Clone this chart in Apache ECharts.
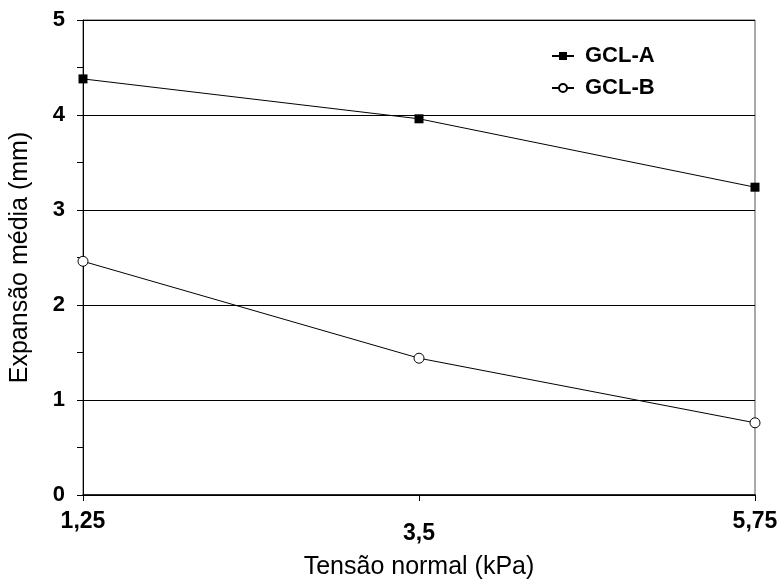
<!DOCTYPE html>
<html><head><meta charset="utf-8">
<script src="https://cdn.jsdelivr.net/npm/echarts@6/dist/echarts.min.js"></script>
<style>html,body{margin:0;padding:0;background:#fff}#c{width:781px;height:585px}</style>
</head><body><div id="c"></div>
<script>
var categories = ['1,25', '3,5', '5,75'];
var gclA = [4.38, 3.96, 3.24];
var gclB = [2.46, 1.44, 0.76];
var yTicks = [0, 1, 2, 3, 4, 5];

var chart = echarts.init(document.getElementById('c'), null, {renderer: 'canvas'});
var F = '"Liberation Sans", Arial, sans-serif';
chart.setOption({
  animation: false,
  backgroundColor: '#fff',
  grid: {left: 81, right: 26, top: 20, bottom: 89, show: true, borderColor: '#555', borderWidth: 1},
  legend: {
    orient: 'vertical', left: 546, top: 40, itemGap: 10, itemWidth: 22, itemHeight: 10,
    textStyle: {fontFamily: F, fontSize: 22, lineHeight: 22, fontWeight: 'bold', color: '#000', padding: [0, 0, 0, 6]},
    data: ['GCL-A', 'GCL-B']
  },
  xAxis: {
    type: 'category', data: categories, boundaryGap: false,
    name: 'Tensão normal (kPa)', nameLocation: 'middle', nameGap: 60,
    nameTextStyle: {fontFamily: F, fontSize: 25, color: '#000'},
    axisLine: {lineStyle: {color: '#000', width: 1.5}},
    axisTick: {show: true, length: 6, lineStyle: {color: '#000'}},
    axisLabel: {
      margin: 15, color: '#000', fontFamily: F, fontSize: 23, fontWeight: 'bold',
      formatter: function (v, i) { return i === 1 ? '{b|' + v + '}' : '{a|' + v + '}'; },
      rich: {
        a: {fontFamily: F, fontSize: 23, fontWeight: 'bold', color: '#000'},
        b: {fontFamily: F, fontSize: 23, fontWeight: 'bold', color: '#000', padding: [12, 0, 0, 0]}
      }
    },
    splitLine: {show: false}
  },
  yAxis: {
    type: 'value', min: yTicks[0], max: yTicks[yTicks.length - 1], interval: 1,
    name: 'Expansão média (mm)', nameLocation: 'middle', nameGap: 50,
    nameTextStyle: {fontFamily: F, fontSize: 25, color: '#000'},
    axisLine: {show: true, lineStyle: {color: '#000', width: 1}},
    axisTick: {show: true, length: 6, lineStyle: {color: '#000'}},
    minorTick: {show: true, splitNumber: 2, length: 6, lineStyle: {color: '#000'}},
    axisLabel: {margin: 18, color: '#000', fontFamily: F, fontSize: 22, fontWeight: 'bold'},
    splitLine: {show: true, lineStyle: {color: '#000', width: 1}}
  },
  series: [
    {
      name: 'GCL-A', type: 'line', data: gclA, symbol: 'rect', symbolSize: 9,
      itemStyle: {color: '#000'}, lineStyle: {color: '#000', width: 1}
    },
    {
      name: 'GCL-B', type: 'line', data: gclB, symbol: 'circle', symbolSize: 10,
      itemStyle: {color: '#fff', borderColor: '#000', borderWidth: 1}, lineStyle: {color: '#000', width: 1}
    }
  ]
});
</script></body></html>
